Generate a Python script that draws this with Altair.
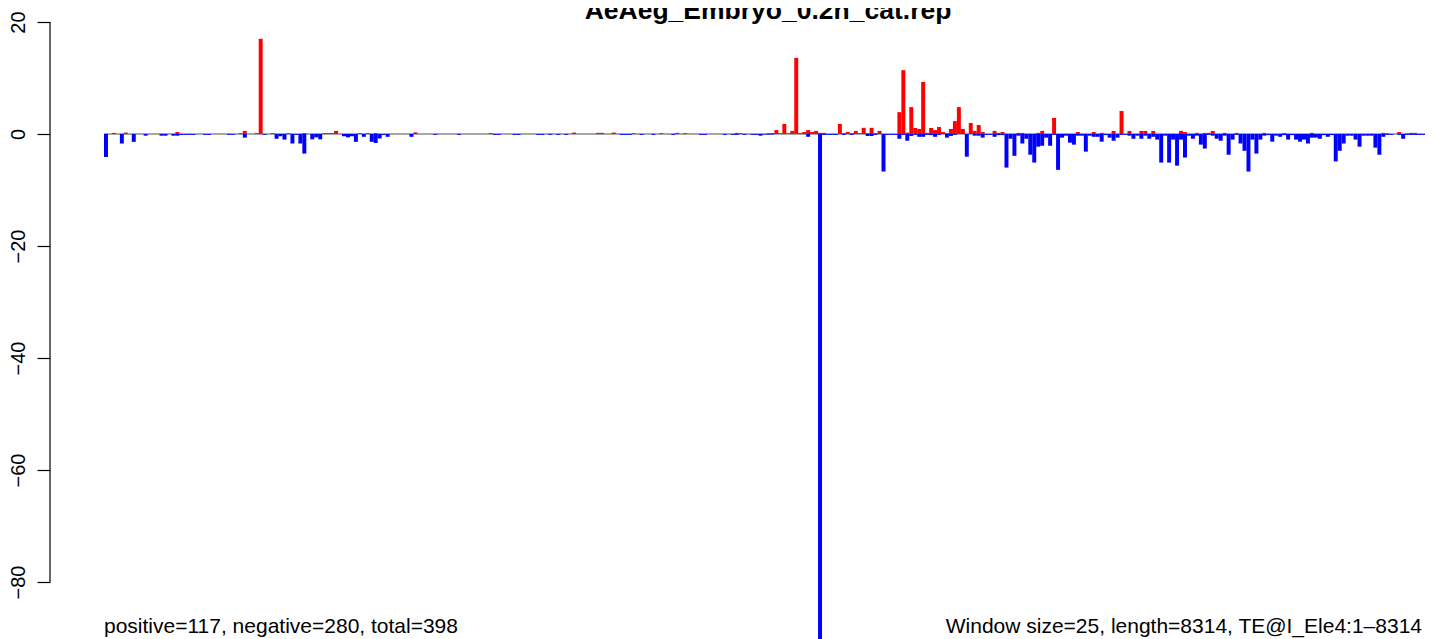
import altair as alt
import pandas as pd

N_WINDOWS = 333
TITLE = "AeAeg_Embryo_0.2h_cat.rep"
LEFT_NOTE = "positive=117, negative=280, total=398"
RIGHT_NOTE = "Window size=25, length=8314, TE@I_Ele4:1\u20138314"
Y_TICKS = [20, 0, -20, -40, -60, -80]

# positive (red) window values: window index -> value
POS = {
    2: 0.2, 5: 0.25, 18: 0.35, 34: 0.15, 35: 0.55, 38: 0.15, 39: 17.0, 42: 0.15,
    46: 0.15, 50: 0.15, 55: 0.15, 56: 0.15, 57: 0.15, 58: 0.55, 64: 0.15, 66: 0.15,
    68: 0.15, 78: 0.3, 97: 0.15, 118: 0.25, 124: 0.2, 125: 0.2, 128: 0.25, 133: 0.15,
    140: 0.15, 144: 0.2, 146: 0.15, 159: 0.2, 160: 0.15, 167: 0.15, 168: 0.15,
    169: 0.7, 170: 0.15, 171: 1.8, 172: 0.1, 173: 0.55, 174: 13.6, 175: 0.15,
    176: 0.35, 177: 0.7, 178: 0.35, 179: 0.55, 180: 0.2, 181: 0.2, 185: 1.8,
    186: 0.15, 187: 0.35, 188: 0.15, 189: 0.55, 190: 0.15, 191: 1.1, 192: 0.15,
    193: 1.1, 194: 0.15, 195: 0.55, 200: 3.9, 201: 11.4, 202: 0.25, 203: 4.8,
    204: 1.07, 205: 0.9, 206: 9.3, 207: 0.2, 208: 1.07, 209: 0.7, 210: 1.25,
    211: 0.35, 212: 0.15, 213: 0.9, 214: 2.3, 215: 4.8, 216: 0.9, 218: 1.96,
    219: 0.55, 220: 1.6, 221: 0.35, 224: 0.55, 225: 0.2, 226: 0.35, 230: 0.2,
    231: 0.2, 235: 0.2, 236: 0.55, 239: 2.86, 245: 0.35, 249: 0.35, 251: 0.2,
    254: 0.55, 256: 4.1, 258: 0.55, 261: 0.55, 262: 0.55, 264: 0.55, 271: 0.55,
    272: 0.35, 275: 0.2, 277: 0.2, 278: 0.2, 279: 0.55, 282: 0.2, 285: 0.2,
    292: 0.2, 297: 0.15, 304: 0.2, 322: 0.2, 323: 0.1, 326: 0.35, 328: 0.1,
    329: 0.2, 330: 0.2,
}

# negative (blue) window values: window index -> value
NEG = {
    0: -4.1, 4: -1.7, 7: -1.4, 10: -0.3, 14: -0.3, 15: -0.3, 17: -0.3, 18: -0.3,
    19: -0.15, 20: -0.15, 21: -0.15, 22: -0.15, 25: -0.15, 26: -0.15, 31: -0.15,
    32: -0.15, 35: -0.65, 40: -0.15, 43: -0.85, 44: -0.4, 45: -1.0, 47: -1.7,
    48: -0.15, 49: -1.7, 50: -3.5, 52: -0.95, 53: -0.6, 54: -0.95, 60: -0.4,
    61: -0.6, 62: -0.4, 63: -1.4, 65: -0.5, 67: -1.4, 68: -1.6, 69: -0.8,
    70: -0.15, 71: -0.5, 77: -0.5, 83: -0.15, 89: -0.15, 98: -0.15, 99: -0.15,
    103: -0.15, 104: -0.15, 109: -0.15, 110: -0.15, 112: -0.15, 114: -0.15,
    116: -0.15, 130: -0.15, 131: -0.15, 132: -0.15, 135: -0.15, 138: -0.15,
    143: -0.15, 150: -0.15, 151: -0.15, 156: -0.15, 158: -0.15, 159: -0.15,
    161: -0.15, 163: -0.15, 164: -0.15, 165: -0.3, 166: -0.1, 167: -0.1,
    168: -0.1, 177: -0.5, 180: -91.0, 181: -0.15, 182: -0.15, 183: -0.15,
    184: -0.15, 186: -0.15, 188: -0.15, 192: -0.35, 193: -0.35, 194: -0.15,
    196: -6.7, 197: -0.15, 198: -0.15, 199: -0.15, 200: -0.85, 201: -0.15,
    202: -1.2, 203: -0.35, 204: -0.15, 205: -0.5, 206: -0.5, 207: -0.15,
    208: -0.2, 209: -0.5, 210: -0.15, 212: -0.65, 213: -0.35, 214: -0.15,
    217: -4.05, 219: -0.3, 220: -0.3, 221: -0.65, 222: -0.15, 223: -0.15,
    224: -0.5, 225: -0.2, 226: -0.2, 227: -6.0, 228: -0.85, 229: -3.9,
    230: -0.3, 231: -1.7, 232: -0.85, 233: -3.7, 234: -5.1, 235: -2.26,
    236: -2.1, 237: -0.65, 238: -2.1, 239: -0.15, 240: -6.4, 241: -0.65,
    242: -0.3, 243: -1.55, 244: -1.9, 245: -0.3, 246: -0.3, 247: -3.15,
    248: -0.3, 249: -0.5, 250: -0.5, 251: -1.37, 252: -0.2, 253: -0.65,
    254: -1.2, 255: -0.65, 256: -0.15, 257: -0.15, 258: -0.3, 259: -0.85,
    260: -0.3, 261: -0.85, 262: -0.3, 263: -0.85, 264: -0.5, 265: -1.0,
    266: -5.1, 267: -0.3, 268: -5.1, 269: -1.0, 270: -5.65, 271: -1.0,
    272: -4.2, 273: -0.3, 274: -0.85, 275: -0.3, 276: -1.9, 277: -2.6,
    278: -0.15, 279: -0.3, 280: -0.85, 281: -1.2, 282: -0.3, 283: -3.7,
    284: -1.0, 285: -0.15, 286: -1.7, 287: -3.0, 288: -6.7, 289: -1.0,
    290: -3.5, 291: -1.0, 292: -0.3, 293: -0.2, 294: -1.37, 295: -0.3,
    296: -0.5, 297: -0.2, 298: -1.0, 299: -0.2, 300: -1.0, 301: -1.37,
    302: -1.0, 303: -1.7, 304: -0.65, 305: -0.65, 306: -0.85, 307: -0.2,
    308: -0.5, 309: -0.2, 310: -4.9, 311: -3.0, 312: -1.7, 313: -0.3,
    314: -0.3, 315: -1.0, 316: -2.26, 317: -0.3, 318: -0.3, 319: -0.3,
    320: -2.44, 321: -3.7, 322: -0.5, 323: -0.15, 324: -0.15, 326: -0.15,
    327: -0.85, 328: -0.15, 329: -0.15, 330: -0.15, 331: -0.15, 332: -0.15,
}

rows = []
for i, v in POS.items():
    rows.append({"w": i, "w2": i + 1, "v": v, "sign": "positive"})
for i, v in NEG.items():
    rows.append({"w": i, "w2": i + 1, "v": v, "sign": "negative"})
bars_df = pd.DataFrame(rows)

W, H = 1321, 617
Y_DOMAIN = [-90.18, 20]
FONT = "Liberation Sans"

xs = alt.Scale(domain=[0, N_WINDOWS], nice=False, zero=False)
ys = alt.Scale(domain=Y_DOMAIN, nice=False, zero=False)

base_df = pd.DataFrame({"w": [0], "w2": [N_WINDOWS], "v": [0]})
baseline = alt.Chart(base_df).mark_rule(color="#8a8a8a", strokeWidth=1.5).encode(
    x=alt.X("w:Q", scale=xs, axis=None),
    x2="w2:Q",
    y=alt.Y("v:Q", scale=ys,
            axis=alt.Axis(values=Y_TICKS, title=None, grid=False, domain=False,
                          offset=54, tickSize=13, tickColor="black", tickWidth=1.2,
                          labelAngle=-90, labelAlign="center", labelBaseline="alphabetic",
                          labelPadding=13, labelFont=FONT, labelFontSize=20,
                          labelColor="black", format="d",
                          labelExpr="replace(datum.label, '-', '\u2212')")),
)

axis_line = alt.Chart(pd.DataFrame({"a": [20], "b": [-80]})).mark_rule(
    color="black", strokeWidth=1.2
).encode(x=alt.value(-54), y=alt.Y("a:Q", scale=ys), y2="b:Q")

bars = alt.Chart(bars_df).mark_rect(clip=True).encode(
    x=alt.X("w:Q", scale=xs),
    x2="w2:Q",
    y=alt.Y("v:Q", scale=ys),
    y2=alt.datum(0),
    color=alt.Color("sign:N", scale=alt.Scale(domain=["positive", "negative"],
                                              range=["#ff0000", "#0000ff"]), legend=None),
)

title_t = alt.Chart(pd.DataFrame({"t": [TITLE]})).mark_text(
    font=FONT, fontSize=26.5, fontWeight="bold", align="center", baseline="alphabetic", color="black"
).encode(x=alt.value(664), y=alt.value(-3), text="t:N")

left_t = alt.Chart(pd.DataFrame({"t": [LEFT_NOTE]})).mark_text(
    font=FONT, fontSize=21, align="left", baseline="alphabetic", color="black"
).encode(x=alt.value(0), y=alt.value(611), text="t:N")

right_t = alt.Chart(pd.DataFrame({"t": [RIGHT_NOTE]})).mark_text(
    font=FONT, fontSize=21, align="right", baseline="alphabetic", color="black"
).encode(x=alt.value(1318), y=alt.value(611), text="t:N")

chart = alt.layer(baseline, axis_line, bars, title_t, left_t, right_t).properties(
    width=W, height=H,
    background="white",
    autosize=alt.AutoSizeParams(type="none"),
    padding={"left": 96, "top": 14, "right": 0, "bottom": 0},
).configure_view(strokeWidth=0, stroke="transparent")

chart.save("out.html", embed_options={"renderer": "svg", "actions": False})
